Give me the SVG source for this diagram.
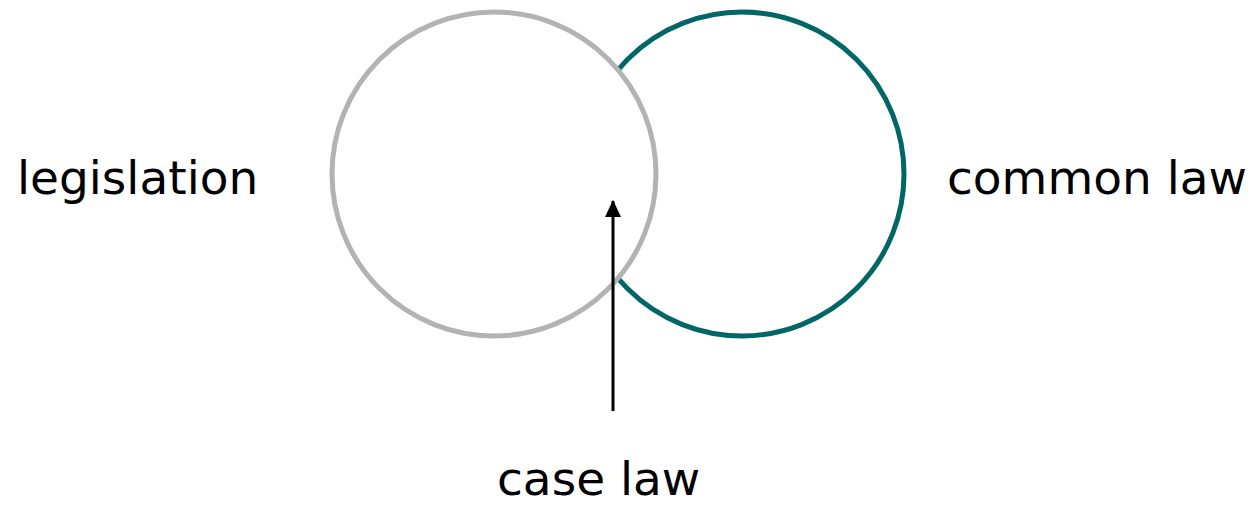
<svg xmlns="http://www.w3.org/2000/svg" width="1260" height="505" viewBox="0 0 1260 505">
<style>
.lbl{font-family:"DejaVu Sans",Verdana,sans-serif;font-size:47px;fill:#000}
.ring{stroke-width:5}
</style>
<defs>
<marker id="ah" markerWidth="17" markerHeight="16" refX="16" refY="8" orient="auto" markerUnits="userSpaceOnUse" viewBox="0 0 17 16">
<path d="M0,0 L17,8 L0,16 z" fill="#000"/>
</marker>
</defs>
<rect width="1260" height="505" fill="#fff"/>
<g id="common-law">
<circle class="ring" cx="742" cy="174" r="162" fill="none" stroke="#006666"/>
<text class="lbl" x="947" y="194">common law</text>
</g>
<g id="legislation">
<circle class="ring" cx="494" cy="174" r="162" fill="#fff" stroke="#b3b3b3"/>
<text class="lbl" x="17" y="194">legislation</text>
</g>
<g id="case-law">
<text class="lbl" x="497" y="495">case law</text>
</g>
<g id="connectors">
<line x1="613" y1="411" x2="613" y2="201" stroke="#000" stroke-width="3" marker-end="url(#ah)"/>
</g>
</svg>
